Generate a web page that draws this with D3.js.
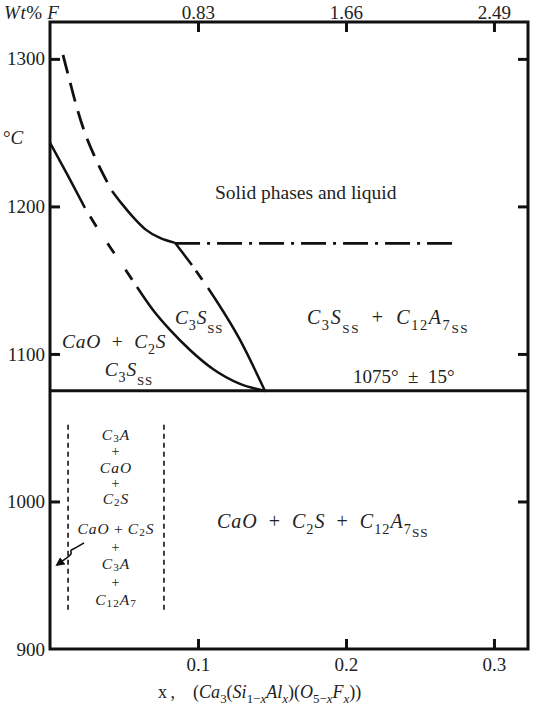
<!DOCTYPE html>
<html>
<head>
<meta charset="utf-8">
<script src="https://cdn.jsdelivr.net/npm/d3@7/dist/d3.min.js"></script>
<style>
  body { margin: 0; background: #fff; }
  svg { display: block; }
  text { font-family: "Liberation Serif", "DejaVu Serif", serif; fill: #222; }
</style>
</head>
<body>
<svg id="chart" width="533" height="708"></svg>
<script>
// ---- data (x = Al fraction, T = deg C) ----
const xTicks = [0.1, 0.2, 0.3]
const wtTicks = ["0.83", "1.66", "2.49"]
const tempTicks = [1000, 1100, 1200, 1300]
const tempLabels = [900, 1000, 1100, 1200, 1300]

// upper liquidus, dashed part then solid part
const liquidusDashed = [[0.0088, 1302.7], [0.0135, 1284.4], [0.0182, 1266.8], [0.0236, 1249.8],
  [0.0297, 1234.9], [0.0358, 1222.0], [0.0419, 1210.5]]
const liquidusSolid = [[0.0419, 1210.5], [0.0486, 1201.7], [0.0554, 1193.6], [0.0649, 1184.1],
  [0.0743, 1178.6], [0.0845, 1175.3]]

// lower boundary CaO+C2S / C3Sss
const lowerSolidA = [[0, 1243.1], [0.0122, 1220.7], [0.0236, 1199.0]]
const lowerDashed = [[0.0236, 1199.0], [0.0324, 1184.7], [0.0419, 1170.5], [0.0507, 1157.6], [0.0588, 1145.4]]
const lowerSolidB = [[0.0588, 1145.4], [0.0696, 1129.8], [0.0811, 1116.3], [0.0946, 1102.7],
  [0.1101, 1089.8], [0.1284, 1079.7], [0.1453, 1074.9]]

// C3Sss / C3Sss + C12A7 boundary
const c3sSolidA = [[0.0845, 1175.3], [0.0959, 1160.3]]
const c3sDashed = [[0.0959, 1160.3], [0.1068, 1144.7]]
const c3sSolidB = [[0.1068, 1144.7], [0.1284, 1109.5], [0.1453, 1074.9]]

// horizontal lines
const liquidusFlat = [[0.0845, 1175], [0.2736, 1175]]
const eutectic = [[0, 1075], [0.323, 1075]]

// dashed verticals of the low temperature strip
const stripLeft = [[0.0122, 1052], [0.0122, 925]]
const stripRight = [[0.077, 1052], [0.077, 925]]

// little pointer arrow
const arrowPts = [[0.0230, 971.9], [0.0162, 967.8], [0.0135, 967.1], [0.0149, 964.4], [0.0122, 962.4], [0.0047, 956.9]]

// ---- setup ----
const svg = d3.select("#chart")
const x = d3.scaleLinear().domain([0, 0.323]).range([50, 528])
const y = d3.scaleLinear().domain([900, 1325]).range([649, 22])
const wt = d3.scaleLinear().domain([0, 0.323 * 8.3]).range([50, 528])

const line = d3.line().x(d => x(d[0])).y(d => y(d[1])).curve(d3.curveMonotoneX)
const straight = d3.line().x(d => x(d[0])).y(d => y(d[1]))

// axes, all ticks point inwards
svg.append("g").attr("class", "axis").attr("transform", "translate(50,0)")
  .call(d3.axisLeft(y).tickValues(tempLabels).tickSize(-10).tickPadding(5).tickFormat(d3.format("d")))
svg.append("g").attr("class", "axis").attr("transform", "translate(528,0)")
  .call(d3.axisRight(y).tickValues(tempTicks).tickSize(-10).tickFormat(""))
svg.append("g").attr("class", "axis").attr("transform", "translate(0,649)")
  .call(d3.axisBottom(x).tickValues(xTicks).tickSize(-10).tickPadding(9).tickFormat(d3.format(".1f")))
svg.append("g").attr("class", "axis").attr("transform", "translate(0,22)")
  .call(d3.axisTop(wt).tickValues(wtTicks.map(Number)).tickSize(-10).tickPadding(3).tickFormat((d, i) => wtTicks[i]))

svg.selectAll(".axis .domain").remove()
svg.selectAll(".axis line").attr("stroke", "#111").attr("stroke-width", 3)
svg.selectAll(".axis text").attr("font-size", 19).attr("font-family", "Liberation Serif").attr("fill", "#222")
// the 900 tick line sits in the corner
svg.selectAll(".axis .tick").filter(d => d === 900).select("line").remove()

svg.append("rect").attr("x", 50).attr("y", 22).attr("width", 478).attr("height", 627)
  .attr("fill", "none").attr("stroke", "#111").attr("stroke-width", 3)

// ---- phase boundaries ----
const g = svg.append("g").attr("fill", "none").attr("stroke", "#111").attr("stroke-linecap", "butt")

g.append("path").attr("d", line(liquidusDashed)).attr("stroke-width", 2.8).attr("stroke-dasharray", "19,10")
g.append("path").attr("d", line(liquidusSolid)).attr("stroke-width", 2.5)
g.append("path").attr("d", line(lowerSolidA)).attr("stroke-width", 2.5)
g.append("path").attr("d", line(lowerDashed)).attr("stroke-width", 2.8).attr("stroke-dasharray", "0,10,12,10")
g.append("path").attr("d", line(lowerSolidB)).attr("stroke-width", 2.5)
g.append("path").attr("d", line(c3sSolidA)).attr("stroke-width", 2.5)
g.append("path").attr("d", line(c3sDashed)).attr("stroke-width", 2.8).attr("stroke-dasharray", "0,7,11,20")
g.append("path").attr("d", line(c3sSolidB)).attr("stroke-width", 2.5)
g.append("path").attr("d", straight(liquidusFlat)).attr("stroke-width", 2.8).attr("stroke-dasharray", "25,7,3,7")
g.append("path").attr("d", straight(eutectic)).attr("stroke-width", 3)
g.append("path").attr("d", straight(stripLeft)).attr("stroke-width", 1.6).attr("stroke-dasharray", "5,4")
g.append("path").attr("d", straight(stripRight)).attr("stroke-width", 1.6).attr("stroke-dasharray", "5,4")

svg.append("defs").append("marker").attr("id", "head")
  .attr("viewBox", "0 0 10 10").attr("refX", 8).attr("refY", 5)
  .attr("markerWidth", 9).attr("markerHeight", 9).attr("markerUnits", "userSpaceOnUse").attr("orient", "auto")
  .append("path").attr("d", "M0,0 L10,5 L0,10 Z").attr("fill", "#111")
g.append("path").attr("d", d3.line().x(d => x(d[0])).y(d => y(d[1])).curve(d3.curveBasis)(arrowPts))
  .attr("stroke-width", 1.6).attr("marker-end", "url(#head)")

// ---- labels ----
// parts: [style, text]; i = italic, r = roman, s = subscript, ss = lower subscript
function mathLabel(px, py, parts, size, anchor, spacing, subDrop) {
  const t = svg.append("text").attr("x", px).attr("y", py).attr("font-size", size)
    .attr("text-anchor", anchor || "start")
    .attr("letter-spacing", spacing || 0)
  const drop = subDrop || 0.28
  let shift = 0
  parts.forEach(([st, str]) => {
    let target = 0
    if (st === "s" || st === "si") target = size * drop
    if (st === "ss") target = size * (drop + 0.17)
    const ts = t.append("tspan").attr("dy", target - shift).text(str)
    shift = target
    if (st === "s" || st === "si") ts.attr("font-size", size * 0.72)
    if (st === "ss") ts.attr("font-size", size * 0.66)
    if (st === "i" || st === "si") ts.attr("font-style", "italic")
  })
  return t
}
const PLUS = "\u2002+\u2002"

svg.append("text").attr("x", x(0.1115)).attr("y", y(1205)).attr("font-size", 19.5).text("Solid phases and liquid")

mathLabel(x(0.0081), y(1104), [["i", "CaO"], ["r", PLUS], ["i", "C"], ["s", "2"], ["i", "S"]], 19.5, "start", 0.8)
mathLabel(x(0.037), y(1085), [["i", "C"], ["s", "3"], ["i", "S"], ["ss", "SS"]], 19.5, "start", 0.8)
mathLabel(x(0.0845), y(1120), [["i", "C"], ["s", "3"], ["i", "S"], ["ss", "SS"]], 19.5, "start", 0.8)
mathLabel(x(0.1736), y(1120), [["i", "C"], ["s", "3"], ["i", "S"], ["ss", "SS"], ["r", PLUS],
  ["i", "C"], ["s", "12"], ["i", "A"], ["s", "7"], ["ss", "SS"]], 20, "start", 1.6)
svg.append("text").attr("x", x(0.2047)).attr("y", y(1080)).attr("font-size", 19)
  .text("1075°\u2002±\u200215°")
mathLabel(x(0.1128), y(982), [["i", "CaO"], ["r", PLUS], ["i", "C"], ["s", "2"], ["i", "S"], ["r", PLUS],
  ["i", "C"], ["s", "12"], ["i", "A"], ["s", "7"], ["ss", "SS"]], 20, "start", 1)

// the column inside the dashed strip (baselines as temperatures)
const cx = x(0.0446)
const column = [
  [1041.7, [["i", "C"], ["s", "3"], ["i", "A"]], 15.5],
  [1030.8, [["r", "+"]], 14],
  [1019.3, [["i", "CaO"]], 15.5],
  [1009.1, [["r", "+"]], 14],
  [998.3, [["i", "C"], ["s", "2"], ["i", "S"]], 15.5],
  [977.9, [["i", "CaO"], ["r", "\u2009+\u2009"], ["i", "C"], ["s", "2"], ["i", "S"]], 15.5],
  [965.7, [["r", "+"]], 14],
  [954.2, [["i", "C"], ["s", "3"], ["i", "A"]], 15.5],
  [942.0, [["r", "+"]], 14],
  [929.8, [["i", "C"], ["s", "12"], ["i", "A"], ["s", "7"]], 15.5]
]
column.forEach(([t, parts, size]) => mathLabel(cx, y(t), parts, size, "middle", 1, 0.14))

// axis titles
mathLabel(4, 19, [["i", "Wt"], ["r", "%\u2009"], ["i", "F"]], 19, "start", 0.6)
mathLabel(3, 144, [["r", "°"], ["i", "C"]], 19)
mathLabel(158, 698, [["r", "x\u2009,\u2003("], ["i", "Ca"], ["s", "3"], ["r", "("], ["i", "Si"], ["s", "1−"], ["si", "x"],
  ["i", "Al"], ["si", "x"], ["r", ")("], ["i", "O"], ["s", "5−"], ["si", "x"], ["i", "F"], ["si", "x"], ["r", "))"]], 18)
</script>
</body>
</html>
